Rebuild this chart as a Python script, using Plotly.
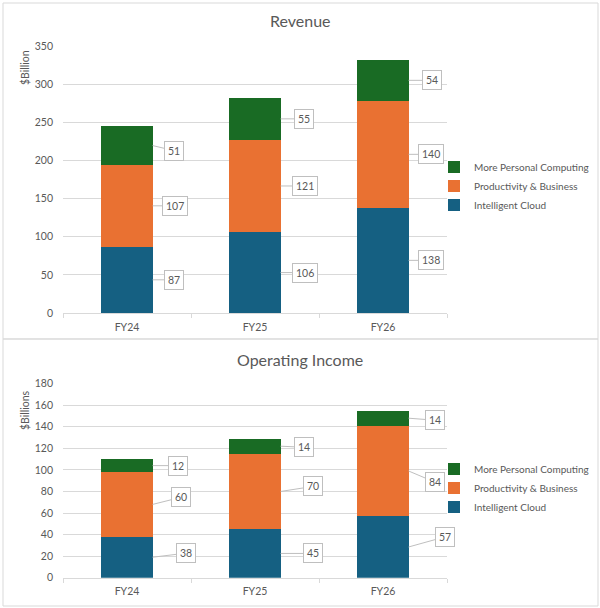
import plotly.graph_objects as go
from plotly.subplots import make_subplots

years = ["FY24", "FY25", "FY26"]
segments = ["Intelligent Cloud", "Productivity & Business", "More Personal Computing"]

revenue_cloud = [87, 106, 138]
revenue_productivity = [107, 121, 140]
revenue_personal = [51, 55, 54]

income_cloud = [38, 45, 57]
income_productivity = [60, 70, 84]
income_personal = [12, 14, 14]

colors = ["#156082", "#E97132", "#196B24"]
grey_text = "#595959"
grid_grey = "#D9D9D9"
font_family = "Lato, Open Sans, sans-serif"

W, H = 600, 608

# pixel offsets (ax, ay) of each callout box from the bar edge, per panel / year / segment
callout_offsets = {
    0: [[(21, 0), (22, 0), (21, 5)],
        [(24, 0), (24, 0), (23, 0)],
        [(22, 0), (22, 0), (23, 0)]],
    1: [[(33, -4), (28, -7), (25, 0)],
        [(32, 0), (32, -5), (23, 1)],
        [(36, -10), (26, 11), (26, 2)]],
}


def py(px):
    # pixel row -> paper fraction
    return 1 - px / H


fig = make_subplots(rows=2, cols=1)

panels = [
    dict(row=1, legend="legend", values=[revenue_cloud, revenue_productivity, revenue_personal]),
    dict(row=2, legend="legend2", values=[income_cloud, income_productivity, income_personal]),
]

for p in panels:
    for name, vals, color in zip(segments, p["values"], colors):
        fig.add_trace(
            go.Bar(
                x=years,
                y=vals,
                name=name,
                marker=dict(color=color, line=dict(width=0)),
                legend=p["legend"],
                hoverinfo="skip",
            ),
            row=p["row"],
            col=1,
        )

# callout labels to the right of each segment
annotations = []
for k, (p, xref, yref) in enumerate([(panels[0], "x", "y"), (panels[1], "x2", "y2")]):
    for i in range(len(years)):
        base = 0
        for j, vals in enumerate(p["values"]):
            v = vals[i]
            ax, ay = callout_offsets[k][i][j]
            annotations.append(
                dict(
                    x=i + 0.2,
                    y=base + v / 2,
                    xref=xref,
                    yref=yref,
                    text=str(v),
                    showarrow=True,
                    arrowhead=0,
                    arrowwidth=1,
                    arrowcolor="#BFBFBF",
                    standoff=0,
                    ax=ax,
                    ay=ay,
                    bgcolor="white",
                    bordercolor="#BFBFBF",
                    borderwidth=1,
                    borderpad=3,
                    font=dict(size=10.5, color=grey_text, family=font_family),
                )
            )
            base += v

# titles
title_font = dict(size=16, color=grey_text, family=font_family)
small_font = dict(size=10.5, color=grey_text, family=font_family)
annotations += [
    dict(text="Revenue", x=0.5, y=py(20), xref="paper", yref="paper", showarrow=False,
         xanchor="center", yanchor="middle", font=title_font),
    dict(text="Operating Income", x=0.5, y=py(359), xref="paper", yref="paper", showarrow=False,
         xanchor="center", yanchor="middle", font=title_font),
    dict(text="$Billion", x=25 / W, y=py(68), xref="paper", yref="paper", showarrow=False, textangle=-90,
         xanchor="center", yanchor="middle", font=small_font),
    dict(text="$Billions", x=25 / W, y=py(410), xref="paper", yref="paper", showarrow=False, textangle=-90,
         xanchor="center", yanchor="middle", font=small_font),
]

shapes = [
    dict(type="rect", xref="paper", yref="paper", x0=3 / W, x1=598 / W, y0=py(339), y1=py(3),
         line=dict(color=grid_grey, width=1), fillcolor="rgba(0,0,0,0)", layer="below"),
    dict(type="rect", xref="paper", yref="paper", x0=3 / W, x1=598 / W, y0=py(606), y1=py(339),
         line=dict(color=grid_grey, width=1), fillcolor="rgba(0,0,0,0)", layer="below"),
]

axis_font = dict(size=10.5, color=grey_text, family=font_family)
xaxis_style = dict(
    domain=[63 / W, 447 / W],
    range=[-0.5, 2.5],
    showline=True,
    linecolor=grid_grey,
    ticks="outside",
    tickson="boundaries",
    ticklen=4,
    tickcolor=grid_grey,
    showgrid=False,
    tickfont=axis_font,
    ticklabelstandoff=4,
    fixedrange=True,
)
yaxis_style = dict(
    showline=False,
    showgrid=True,
    gridcolor=grid_grey,
    zeroline=False,
    ticks="",
    tickfont=axis_font,
    ticklabelstandoff=9,
    fixedrange=True,
)

legend_style = dict(
    x=434 / W,
    xanchor="left",
    yanchor="middle",
    traceorder="reversed",
    font=dict(size=10, color=grey_text, family=font_family),
    bgcolor="rgba(0,0,0,0)",
)

fig.update_layout(
    width=W,
    height=H,
    margin=dict(l=0, r=0, t=0, b=0, autoexpand=False),
    paper_bgcolor="white",
    plot_bgcolor="white",
    barmode="stack",
    bargap=0.6,
    xaxis=dict(anchor="y", **xaxis_style),
    xaxis2=dict(anchor="y2", **xaxis_style),
    yaxis=dict(anchor="x", domain=[py(313), py(46)], range=[0, 350], dtick=50, **yaxis_style),
    yaxis2=dict(anchor="x2", domain=[py(577.7), py(383.7)], range=[0, 180], dtick=20, **yaxis_style),
    legend=dict(y=py(186), **legend_style),
    legend2=dict(y=py(488), **legend_style),
    annotations=annotations,
    shapes=shapes,
)

fig.write_html(
    "out.html",
    config={"displayModeBar": False},
    post_script="document.body.style.margin='0px';",
)
